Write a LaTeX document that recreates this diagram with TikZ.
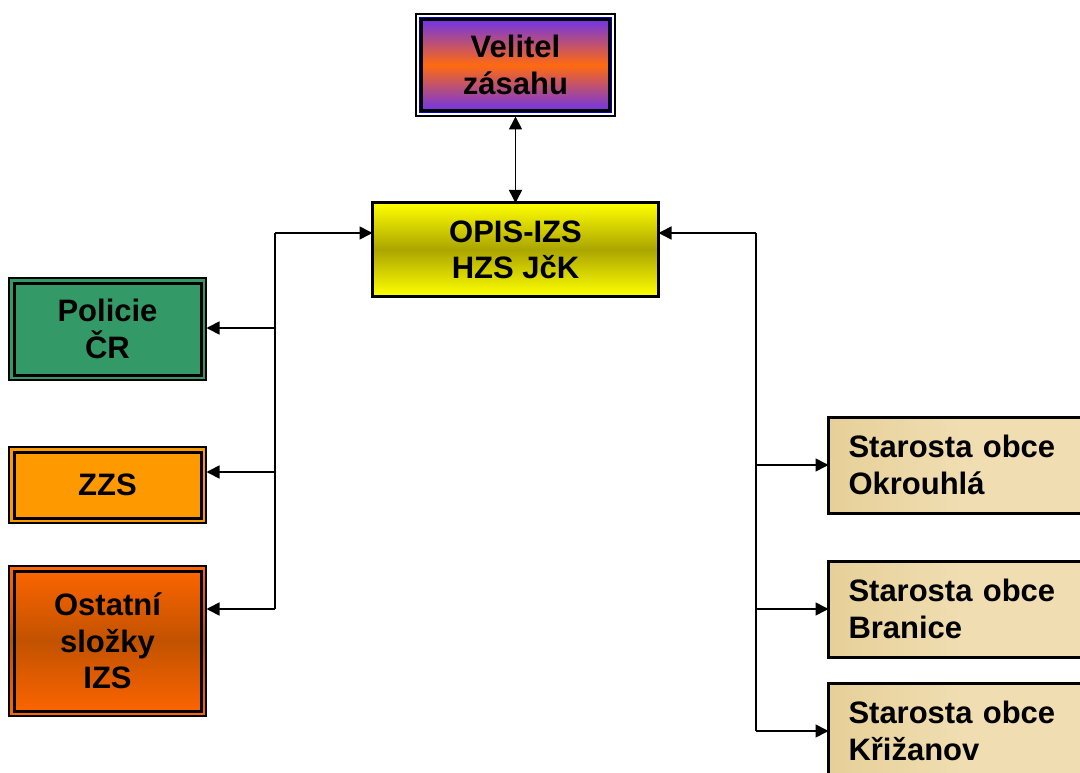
\documentclass[tikz,border=0pt]{standalone}
\usepackage{fontspec}
\setmainfont{Liberation Sans}
\usetikzlibrary{arrows.meta,calc}
\definecolor{velblue}{HTML}{5F2EFF}
\definecolor{velorange}{HTML}{FF6A10}
\definecolor{opisyel}{HTML}{FFFF00}
\definecolor{opisolive}{HTML}{ABA500}
\definecolor{polgreen}{HTML}{339966}
\definecolor{zzsorange}{HTML}{FF9900}
\definecolor{ostorange}{HTML}{FF6600}
\definecolor{ostdark}{HTML}{C25200}
\definecolor{papyrus}{HTML}{E6CF98}
\definecolor{papyrusl}{HTML}{F0DEB2}
\tikzset{
  boxtext/.style={font=\fontsize{31}{36.5}\selectfont\bfseries, align=center, inner sep=0pt, outer sep=0pt, text depth=0pt},
  outerbox/.style={boxtext, draw=black, line width=1.3pt, rectangle},
  innerframe/.style={draw=black, line width=3pt},
  stbox/.style={draw=black, line width=3pt, font=\fontsize{31}{36.5}\selectfont\bfseries,
     align=left, text width=230pt, inner xsep=20pt, inner ysep=0pt, minimum height=96pt,
     anchor=west, outer sep=0pt, left color=papyrus, right color=papyrusl, middle color=papyrusl},
  arr/.style={line width=1.6pt, -{Triangle[length=13pt,width=13pt]}},
  arrb/.style={line width=1.6pt, {Triangle[length=13pt,width=13pt]}-{Triangle[length=13pt,width=13pt]}},
  ln/.style={line width=1.6pt}
}
\begin{document}
\begin{tikzpicture}[x=1pt,y=-1pt]
\useasboundingbox (0,0) rectangle (1080,773);
\clip (0,0) rectangle (1080,773);

% Velitel zasahu
\node[outerbox, minimum width=199pt, minimum height=102pt,
  top color=velblue, bottom color=velblue, middle color=velorange] (vel) at (515.5,65) {Velitel\\zásahu};
\draw[white, line width=2pt] ($(vel.north west)+(2.2,2.2)$) rectangle ($(vel.south east)+(-2.2,-2.2)$);
\draw[blue!80!black, line width=1pt] ($(vel.north west)+(3.3,3.3)$) rectangle ($(vel.south east)+(-3.3,-3.3)$);
\draw[innerframe] ($(vel.north west)+(5.3,5.3)$) rectangle ($(vel.south east)+(-5.3,-5.3)$);

% OPIS-IZS
\node[boxtext, draw=black, line width=3pt, minimum width=286pt, minimum height=93pt,
  top color=opisyel, bottom color=opisyel, middle color=opisolive] (opis) at (515.5,249.5) {OPIS-IZS\\HZS JčK};

% Policie CR
\node[outerbox, fill=polgreen, minimum width=197pt, minimum height=102pt] (pol) at (107.5,329) {Policie\\ČR};
\draw[innerframe] ($(pol.north west)+(5,5)$) rectangle ($(pol.south east)+(-5,-5)$);

% ZZS
\node[outerbox, fill=zzsorange, minimum width=197pt, minimum height=76pt] (zzs) at (107.5,485) {ZZS};
\draw[innerframe] ($(zzs.north west)+(5,5)$) rectangle ($(zzs.south east)+(-5,-5)$);

% Ostatni slozky IZS
\node[outerbox, minimum width=197pt, minimum height=150pt,
  top color=ostorange, bottom color=ostorange, middle color=ostdark] (ost) at (107.5,641) {Ostatní\\složky\\IZS};
\draw[innerframe] ($(ost.north west)+(5,5)$) rectangle ($(ost.south east)+(-5,-5)$);

% Starosta boxes
\node[stbox] (st1) at (828.5,465) {Starosta obce\\Okrouhlá};
\node[stbox] (st2) at (828.5,609) {Starosta obce\\Branice};
\node[stbox] (st3) at (828.5,731) {Starosta obce\\Křižanov};

% bus coordinates
\coordinate (LB) at (275,233);
\coordinate (RB) at (756,233);
\coordinate (polin) at (206.5,328);
\coordinate (zzsin) at (206.5,472);
\coordinate (ostin) at (206.5,609);
\coordinate (velb) at (515.5,116.5);

% Velitel <-> OPIS
\draw[arrb] (velb) -- (opis.north);

% left bus
\draw[ln] (LB) -- (LB |- ostin);
\draw[arr] (LB) -- (LB -| opis.west);
\draw[arr] (LB |- polin) -- (polin);
\draw[arr] (LB |- zzsin) -- (zzsin);
\draw[arr] (LB |- ostin) -- (ostin);

% right bus
\draw[ln] (RB) -- (RB |- st3.west);
\draw[arr] (RB) -- (RB -| opis.east);
\draw[arr] (RB |- st1.west) -- (st1.west);
\draw[arr] (RB |- st2.west) -- (st2.west);
\draw[arr] (RB |- st3.west) -- (st3.west);
\end{tikzpicture}
\end{document}
